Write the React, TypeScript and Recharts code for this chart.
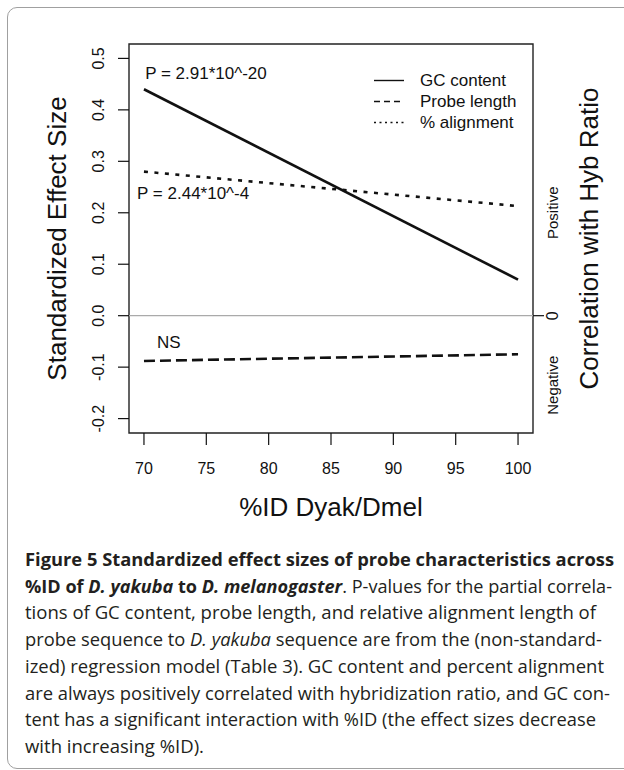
import React from "react"
import {
  LineChart,
  Line,
  XAxis,
  YAxis,
  ReferenceArea,
  ReferenceLine,
  ReferenceDot,
  Legend,
} from "recharts"

// values (fitted lines at 70 and 100 %ID)
const pctId = [70, 100]
const gcContent = [0.44, 0.07]
const probeLength = [-0.088, -0.075]
const pctAlignment = [0.28, 0.213]

const seriesNames = ["GC content", "Probe length", "% alignment"]

const xTicks = [70, 75, 80, 85, 90, 95, 100]
const yTicks = [-0.2, -0.1, 0.0, 0.1, 0.2, 0.3, 0.4, 0.5]
const yTickLabels = ["-0.2", "-0.1", "0.0", "0.1", "0.2", "0.3", "0.4", "0.5"]
const rightTicks = [-0.135, 0, 0.2]
const rightTickLabels = ["Negative", "0", "Positive"]

const notes = [
  { x: 70.1, y: 0.47, text: "P = 2.91*10^-20" },
  { x: 69.45, y: 0.238, text: "P = 2.44*10^-4" },
  { x: 71.05, y: -0.053, text: "NS" },
]

const xDomain = [68.8, 101.2]
const yDomain = [-0.228, 0.528]

const data = pctId.map((x, i) => ({
  x,
  gc: gcContent[i],
  probe: probeLength[i],
  align: pctAlignment[i],
}))

const FONT = "'Liberation Sans', Arial, sans-serif"
const INK = "#111"

const lineDash = [undefined, "11 5", "4 6.5"]
const legendDash = [undefined, "6 4", "2 3.5"]

function LegendBox() {
  return (
    <div style={{ fontFamily: FONT, fontSize: 17, color: INK }}>
      {seriesNames.map((name, i) => (
        <div key={name} style={{ display: "flex", alignItems: "center", height: 21 }}>
          <svg width={32} height={21}>
            <line x1={1} y1={10.5} x2={31} y2={10.5} stroke={INK} strokeWidth={1.4} strokeDasharray={legendDash[i]} />
          </svg>
          <span style={{ marginLeft: 15, whiteSpace: "nowrap" }}>{name}</span>
        </div>
      ))}
    </div>
  )
}

const XTick = (props: any) => (
  <text x={props.x} y={props.y + 23} textAnchor="middle" dominantBaseline="central"
    fontFamily={FONT} fontSize={16} fill={INK}>
    {props.payload.value}
  </text>
)

const YTick = (props: any) => {
  const idx = yTicks.findIndex((v) => Math.abs(v - props.payload.value) < 1e-9)
  const cx = props.x - 19
  return (
    <text x={cx} y={props.y} textAnchor="middle" dominantBaseline="central"
      transform={`rotate(-90 ${cx} ${props.y})`} fontFamily={FONT} fontSize={16} fill={INK}>
      {idx >= 0 ? yTickLabels[idx] : props.payload.value}
    </text>
  )
}

const RightTick = (props: any) => {
  const idx = rightTicks.findIndex((v) => Math.abs(v - props.payload.value) < 1e-9)
  const cx = props.x + 20
  return (
    <g>
      {props.payload.value === 0 && (
        <line x1={props.x} y1={props.y} x2={props.x + 11} y2={props.y} stroke={INK} strokeWidth={1.2} />
      )}
      <text x={cx} y={props.y} textAnchor="middle" dominantBaseline="central"
        transform={`rotate(-90 ${cx} ${props.y})`} fontFamily={FONT}
        fontSize={props.payload.value === 0 ? 16 : 15} fill={INK}>
        {rightTickLabels[idx]}
      </text>
    </g>
  )
}

const AxisTitle = (props: any) => {
  const vb = props.viewBox || { x: 0, y: 0, width: 0, height: 0 }
  let x = vb.x + vb.width / 2
  let y = vb.y + 83
  let rot = 0
  if (props.side === "left") {
    x = vb.x + 66
    y = vb.y + vb.height / 2
    rot = -90
  } else if (props.side === "right") {
    x = vb.x + 65
    y = vb.y + vb.height / 2
    rot = -90
  }
  return (
    <text x={x} y={y} textAnchor="middle" fontFamily={FONT} fontSize={26} fill={INK}
      transform={rot ? `rotate(${rot} ${x} ${y})` : undefined}>
      {props.text}
    </text>
  )
}

const NoteLabel = (props: any) => {
  const vb = props.viewBox || { x: 0, y: 0, width: 0, height: 0 }
  return (
    <text x={vb.x + vb.width / 2} y={vb.y + vb.height / 2} dominantBaseline="central"
      fontFamily={FONT} fontSize={17} fill={INK}>
      {props.text}
    </text>
  )
}

type Seg = { t: string; b?: boolean; i?: boolean }
const captionLines: Seg[][] = [
  [{ t: "Figure 5 Standardized effect sizes of probe characteristics across", b: true }],
  [
    { t: "%ID of ", b: true },
    { t: "D. yakuba", b: true, i: true },
    { t: " to ", b: true },
    { t: "D. melanogaster", b: true, i: true },
    { t: ". P-values for the partial correla-" },
  ],
  [{ t: "tions of GC content, probe length, and relative alignment length of" }],
  [
    { t: "probe sequence to " },
    { t: "D. yakuba", i: true },
    { t: " sequence are from the (non-standard-" },
  ],
  [{ t: "ized) regression model (Table 3). GC content and percent alignment" }],
  [{ t: "are always positively correlated with hybridization ratio, and GC con-" }],
  [{ t: "tent has a significant interaction with %ID (the effect sizes decrease" }],
  [{ t: "with increasing %ID)." }],
]
const captionWidths = [589, 587, 571, 577, 579, 585, 571, 179]

function Caption() {
  return (
    <svg width={624} height={230} style={{ position: "absolute", left: 0, top: 540 }}>
      {captionLines.map((segs, li) => (
        <text key={li} x={25} y={26 + li * 26.7} textLength={captionWidths[li]} lengthAdjust="spacingAndGlyphs"
          fontFamily="'Open Sans', 'Noto Sans', sans-serif" fontSize={18} fill="#231f20"
          style={{ whiteSpace: "pre" }}>
          {segs.map((s, si) => (
            <tspan key={si} fontWeight={s.b ? 700 : 400} fontStyle={s.i ? "italic" : "normal"}>
              {s.t}
            </tspan>
          ))}
        </text>
      ))}
    </svg>
  )
}

export default function App() {
  return (
    <div style={{ position: "fixed", left: 0, top: 0, width: 624, height: 770, overflow: "hidden", background: "#fff" }}>
      <div style={{
        position: "absolute", left: 7, top: 7, width: 640, height: 762,
        border: "1.5px solid #a0a0a0", borderRadius: 10, boxSizing: "border-box",
      }} />
      <div style={{ position: "absolute", left: 0, top: 0 }}>
        <LineChart width={624} height={540} data={data} margin={{ top: 44, right: 0, bottom: 0, left: 0 }}>
          <XAxis dataKey="x" type="number" domain={xDomain} ticks={xTicks} allowDataOverflow
            height={107} axisLine={false} tickSize={12} tickMargin={0}
            tickLine={{ stroke: INK, strokeWidth: 1.2 }} tick={<XTick />}
            label={<AxisTitle side="bottom" text="%ID Dyak/Dmel" />} />
          <YAxis yAxisId="left" type="number" domain={yDomain} ticks={yTicks} allowDataOverflow
            width={129} axisLine={false} tickSize={11} tickMargin={0}
            tickLine={{ stroke: INK, strokeWidth: 1.2 }} tick={<YTick />}
            label={<AxisTitle side="left" text="Standardized Effect Size" />} />
          <YAxis yAxisId="right" orientation="right" type="number" domain={yDomain} ticks={rightTicks}
            allowDataOverflow width={91} axisLine={false} tickLine={false} tickSize={0} tickMargin={0}
            tick={<RightTick />}
            label={<AxisTitle side="right" text="Correlation with Hyb Ratio" />} />
          <ReferenceLine yAxisId="left" y={0} stroke="#aaaaaa" strokeWidth={1.3} />
          <ReferenceArea yAxisId="left" x1={xDomain[0]} x2={xDomain[1]} y1={yDomain[0]} y2={yDomain[1]}
            fill="none" stroke="#222" strokeWidth={1.4} ifOverflow="visible" />
          <Line yAxisId="left" dataKey="gc" name={seriesNames[0]} type="linear" stroke={INK}
            strokeWidth={2.6} dot={false} isAnimationActive={false} />
          <Line yAxisId="left" dataKey="probe" name={seriesNames[1]} type="linear" stroke={INK}
            strokeWidth={2.6} strokeDasharray={lineDash[1]} dot={false} isAnimationActive={false} />
          <Line yAxisId="left" dataKey="align" name={seriesNames[2]} type="linear" stroke={INK}
            strokeWidth={2.6} strokeDasharray={lineDash[2]} dot={false} isAnimationActive={false} />
          {notes.map((n) => (
            <ReferenceDot key={n.text} yAxisId="left" x={n.x} y={n.y} r={0.01} fill="none" stroke="none"
              label={<NoteLabel text={n.text} />} />
          ))}
          <Legend layout="vertical" align="center" verticalAlign="middle"
            wrapperStyle={{ position: "absolute", left: 373, top: 70, width: 160, height: 63 }}
            content={<LegendBox />} />
        </LineChart>
      </div>
      <Caption />
    </div>
  )
}
